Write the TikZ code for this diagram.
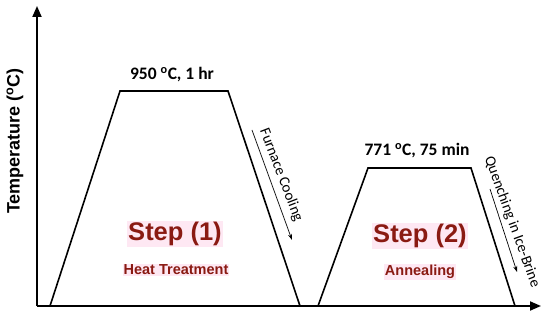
\documentclass[tikz,border=0pt]{standalone}
\usepackage{xcolor}
\usepackage{fontspec}
\usepackage{tikz}
\usetikzlibrary{arrows.meta,positioning,calc}
\setmainfont{Liberation Sans}
\newfontfamily\calib{Carlito}
\definecolor{steptext}{RGB}{138,26,18}
\definecolor{stepglow}{RGB}{254,232,243}

\begin{document}
\begin{tikzpicture}[
            x=1pt, y=-1pt,
            axis/.style={line width=2pt, -{Triangle[length=11pt,width=9pt]}},
            cycle/.style={line width=1.6pt, line join=miter},
            cool/.style={line width=0.7pt, -{Stealth[length=6pt,width=4pt]}},
            steplabel/.style={font=\fontsize{25.5}{28}\selectfont\bfseries, text=steptext, fill=stepglow, inner sep=1pt},
            sublabel/.style={font=\fontsize{14.5}{16}\selectfont\bfseries, text=steptext, fill=stepglow, inner sep=1pt},
            templabel/.style={font=\calib\fontsize{17.5}{19}\selectfont\bfseries},
            slopelabel/.style={font=\calib\fontsize{15}{17}\selectfont},
        ]
            \useasboundingbox (0,0) rectangle (550,321);

            % axes
            \coordinate (origin) at (37,306);
            \coordinate (ytop) at (37,6);
            \coordinate (xend) at (541,306);
            \draw[axis] (origin) -- (ytop);
            \draw[axis] (origin) -- (xend);
            \node[font=\fontsize{18}{20}\selectfont\bfseries, rotate=90] (ylab) at (15,141) {Temperature (\textsuperscript{o}C)};

            % step 1
            \coordinate (a1) at (50,306);
            \coordinate (b1) at (120,91);
            \coordinate (c1) at (228,91);
            \coordinate (d1) at (300,306);
            \draw[cycle] (a1) -- (b1) -- (c1) -- (d1);
            \node[templabel] (t1) at (172,75) {950 \textsuperscript{o}C, 1 hr};
            \node[steplabel] (s1) at (175,234) {Step (1)};
            \node[sublabel] (h1) at (176,270) {Heat Treatment};

            % furnace cooling
            \coordinate (f1) at (252,130);
            \coordinate (f2) at (292,240);
            \draw[cool] (f1) -- (f2);
            \node[slopelabel, rotate=-69] (fc) at (281,175) {Furnace Cooling};

            % step 2
            \coordinate (a2) at (318,306);
            \coordinate (b2) at (368,168);
            \coordinate (c2) at (471,168);
            \coordinate (d2) at (515,306);
            \draw[cycle] (a2) -- (b2) -- (c2) -- (d2);
            \node[templabel] (t2) at (417,151) {771 \textsuperscript{o}C, 75 min};
            \node[steplabel] (s2) at (420,236) {Step (2)};
            \node[sublabel] (h2) at (420,272) {Annealing};

            % quenching
            \coordinate (q1) at (490,189);
            \coordinate (q2) at (517,272);
            \draw[cool] (q1) -- (q2);
            \node[slopelabel, rotate=-70] (qb) at (512,222) {Quenching in Ice-Brine};
        \end{tikzpicture}
\end{document}
